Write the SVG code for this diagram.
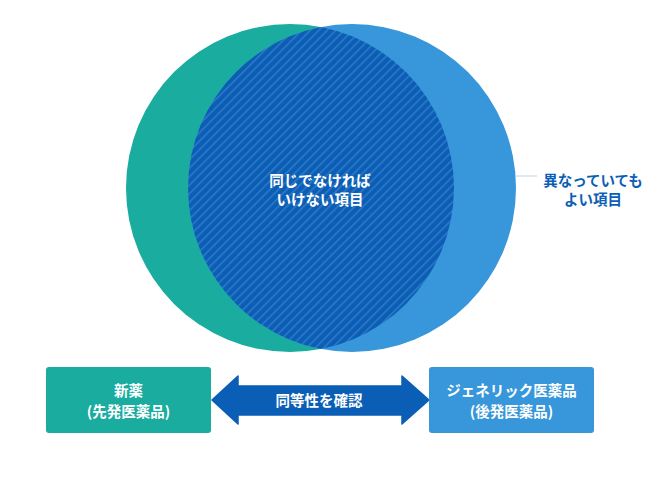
<svg xmlns="http://www.w3.org/2000/svg" width="655" height="479" viewBox="0 0 655 479">
<defs>
<pattern id="hatch" width="6" height="6" patternUnits="userSpaceOnUse" patternTransform="rotate(45)">
<rect width="6" height="6" fill="#0a5eb5"/>
<rect width="1.6" height="6" fill="#2f78c6"/>
</pattern>
<clipPath id="clipL"><circle cx="290" cy="188" r="164"/></clipPath>
</defs>
<style>
.t{font-family:"Noto Sans CJK JP","Noto Sans",sans-serif;font-weight:bold;font-size:14.5px;text-anchor:middle}
.w{fill:#ffffff}
.b{fill:#0a5eb5}
</style>
<rect width="655" height="479" fill="#ffffff"/>
<g id="venn">
<circle id="circle-left" cx="290" cy="188" r="164" fill="#19ac9f"/>
<circle id="circle-right" cx="352" cy="188" r="164" fill="#3797da"/>
<circle id="overlap" cx="352" cy="188" r="164" fill="url(#hatch)" clip-path="url(#clipL)"/>
<text class="t w" x="320" y="186">同じでなければ</text>
<text class="t w" x="320" y="205">いけない項目</text>
</g>
<g id="connectors">
<line x1="516" y1="176" x2="537" y2="176" stroke="#cfe3f5" stroke-width="1.5"/>
<path id="double-arrow" d="M212,400 L238,376 L238,386 L402,386 L402,376 L429,400 L402,424 L402,415 L238,415 L238,424 Z" fill="#0a5eb5" stroke="#0a5eb5" stroke-width="1.5" stroke-linejoin="round"/>
<text class="t w" x="319" y="406">同等性を確認</text>
</g>
<g id="note-right">
<text class="t b" x="593" y="186">異なっていても</text>
<text class="t b" x="593" y="205">よい項目</text>
</g>
<g id="node-new">
<rect x="46" y="367" width="165" height="66" rx="3" fill="#19ac9f"/>
<text class="t w" x="128.5" y="396">新薬</text>
<text class="t w" x="128.5" y="417">(先発医薬品)</text>
</g>
<g id="node-generic">
<rect x="429" y="367" width="165" height="66" rx="3" fill="#3797da"/>
<text class="t w" x="511.5" y="396">ジェネリック医薬品</text>
<text class="t w" x="511.5" y="417">(後発医薬品)</text>
</g>
</svg>
